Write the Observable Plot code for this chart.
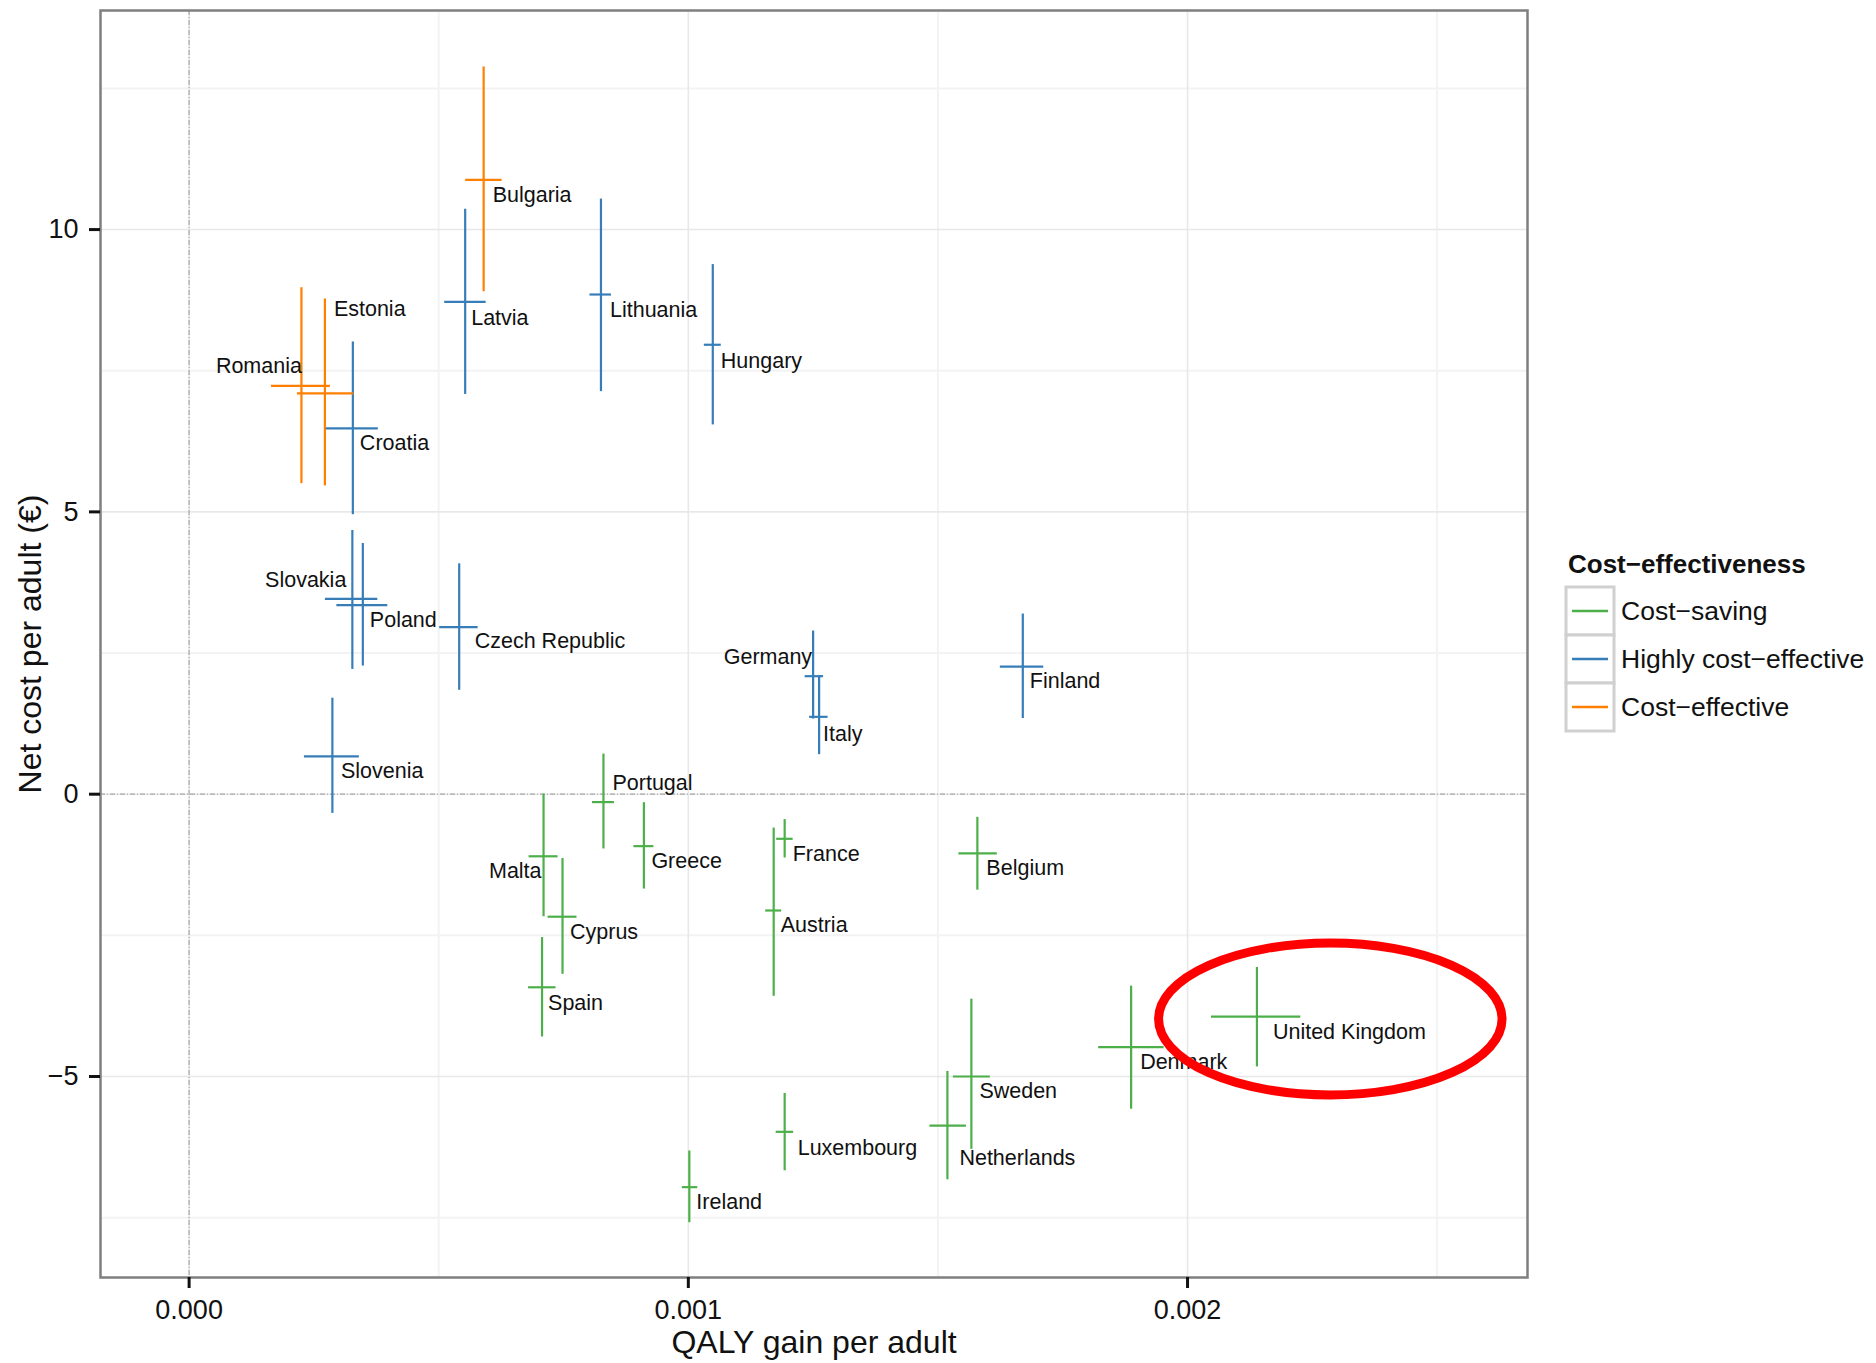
<!DOCTYPE html>
<html><head><meta charset="utf-8">
<script src="https://cdn.jsdelivr.net/npm/d3@7"></script>
<script src="https://cdn.jsdelivr.net/npm/@observablehq/plot@0.6"></script>
<style>
html,body{margin:0;padding:0;background:#fff;}
#chart{position:relative;width:1876px;height:1363px;}
svg{font-family:"Liberation Sans",Arial,sans-serif;}
</style></head><body><div id="chart"></div>
<script>
// ---- data ----
const countries = ["Bulgaria","Latvia","Lithuania","Estonia","Romania","Croatia","Hungary","Slovakia","Poland","Czech Republic","Slovenia","Germany","Italy","Finland","Portugal","Greece","Malta","Cyprus","France","Austria","Belgium","Spain","Ireland","Luxembourg","Netherlands","Sweden","Denmark","United Kingdom"];
const category = ["Cost−effective","Highly cost−effective","Highly cost−effective","Cost−effective","Cost−effective","Highly cost−effective","Highly cost−effective","Highly cost−effective","Highly cost−effective","Highly cost−effective","Highly cost−effective","Highly cost−effective","Highly cost−effective","Highly cost−effective","Cost−saving","Cost−saving","Cost−saving","Cost−saving","Cost−saving","Cost−saving","Cost−saving","Cost−saving","Cost−saving","Cost−saving","Cost−saving","Cost−saving","Cost−saving","Cost−saving"];
const qaly   = [0.000590,0.000553,0.000825,0.000272,0.000225,0.000328,0.001049,0.000327,0.000348,0.000541,0.000287,0.001250,0.001262,0.001670,0.000830,0.000911,0.000710,0.000748,0.001193,0.001171,0.001579,0.000707,0.001002,0.001193,0.001519,0.001567,0.001887,0.002139];
const qalyLo = [0.000554,0.000512,0.000803,0.000217,0.000165,0.000275,0.001032,0.000273,0.000296,0.000502,0.000231,0.001234,0.001243,0.001625,0.000808,0.000891,0.000681,0.000719,0.001177,0.001155,0.001542,0.000680,0.000988,0.001176,0.001484,0.001531,0.001822,0.002048];
const qalyHi = [0.000627,0.000595,0.000846,0.000330,0.000283,0.000379,0.001066,0.000378,0.000398,0.000579,0.000341,0.001271,0.001280,0.001712,0.000852,0.000931,0.000739,0.000777,0.001210,0.001187,0.001619,0.000735,0.001019,0.001211,0.001557,0.001605,0.001953,0.002227];
const cost   = [10.88,8.72,8.85,7.10,7.23,6.48,7.96,3.46,3.35,2.96,0.67,2.09,1.37,2.26,-0.14,-0.92,-1.10,-2.17,-0.79,-2.06,-1.05,-3.42,-6.96,-5.98,-5.87,-5.00,-4.48,-3.94];
const costLo = [8.90,7.08,7.13,5.46,5.50,4.95,6.54,2.21,2.27,1.84,-0.34,1.33,0.70,1.34,-0.97,-1.68,-2.17,-3.19,-1.13,-3.58,-1.70,-4.30,-7.59,-6.67,-6.83,-6.29,-5.58,-4.83];
const costHi = [12.88,10.36,10.54,8.77,8.97,8.01,9.38,4.67,4.44,4.08,1.70,2.89,2.10,3.19,0.71,-0.15,0.00,-1.14,-0.45,-0.60,-0.41,-2.54,-6.32,-5.30,-4.91,-3.63,-3.40,-3.07];

const categories = ["Cost−saving","Highly cost−effective","Cost−effective"];
const categoryColors = ["#4DAF4A","#377EB8","#FF7F00"];
const xTicks = [0, 0.001, 0.002];
const xMinorTicks = [0.0005, 0.0015, 0.0025];
const yTicks = [-5, 0, 5, 10];
const yMinorTicks = [-7.5, -2.5, 2.5, 7.5, 12.5];
const legendTitle = "Cost−effectiveness";
const xTitle = "QALY gain per adult";
const yTitle = "Net cost per adult (€)";

// label placement (pixel nudges, anchor)
const labelNudge = [
  [9,15,"start"],[6,16,"start"],[9,16,"start"],[9,-84,"start"],[0.5,-20,"end"],[7,15,"start"],[8,16,"start"],
  [-6,-19,"end"],[7,15,"start"],[15.5,14,"start"],[8.6,15,"start"],[-1,-19,"end"],[4,17,"start"],[7,15,"start"],
  [9,-19,"start"],[7.5,15,"start"],[-2,15,"end"],[7.5,15,"start"],[8,15,"start"],[7,14.6,"start"],[9,15,"start"],
  [6,16,"start"],[7,14.7,"start"],[13,16.6,"start"],[12,32,"start"],[8,15,"start"],[9,15,"start"],[16,15,"start"]
];
// highlight annotation (data units)
const highlight = {x: 0.002287, y: -3.99, rx: 0.000344, ry: 1.345};

const rows = countries.map((c, i) => ({
  country: c, category: category[i],
  qaly: qaly[i], qalyLo: qalyLo[i], qalyHi: qalyHi[i],
  cost: cost[i], costLo: costLo[i], costHi: costHi[i]
}));

const W = 1876, H = 1363;
const font = '"Liberation Sans", Arial, sans-serif';

const labelMarks = rows.map((r, i) => Plot.text([r], {
  x: "qaly", y: "cost", text: "country",
  dx: labelNudge[i][0], dy: labelNudge[i][1], textAnchor: labelNudge[i][2],
  fontSize: 21.5, fill: "#111"
}));

const chart = Plot.plot({
  width: W, height: H,
  marginLeft: 100, marginRight: 349, marginTop: 10, marginBottom: 86,
  x: {domain: [-0.0001775, 0.002681]},
  y: {domain: [-8.56, 13.88]},
  color: {domain: categories, range: categoryColors},
  style: {fontFamily: font, background: "#fff", color: "#111"},
  marks: [
    Plot.ruleX(xMinorTicks, {stroke: "#f3f3f3", strokeWidth: 2}),
    Plot.ruleY(yMinorTicks, {stroke: "#f3f3f3", strokeWidth: 2}),
    Plot.ruleX(xTicks, {stroke: "#e8e8e8", strokeWidth: 1.6}),
    Plot.ruleY(yTicks, {stroke: "#e8e8e8", strokeWidth: 1.6}),
    Plot.ruleX([0], {stroke: "#a8a8a8", strokeWidth: 1.2, strokeDasharray: "5,2,1,2"}),
    Plot.ruleY([0], {stroke: "#a8a8a8", strokeWidth: 1.2, strokeDasharray: "5,2,1,2"}),
    Plot.ruleX(rows, {x: "qaly", y1: "costLo", y2: "costHi", stroke: "category", strokeWidth: 2.2}),
    Plot.ruleY(rows, {y: "cost", x1: "qalyLo", x2: "qalyHi", stroke: "category", strokeWidth: 2.2}),
    ...labelMarks,
    Plot.frame({stroke: "#7f7f7f", strokeWidth: 2.5}),
    Plot.axisX({ticks: xTicks, tickFormat: d3.format(".3f"), tickSize: 11, tickPadding: 11, fontSize: 27, strokeWidth: 3, label: null, stroke: "#111", fill: "#111"}),
    Plot.axisY({ticks: yTicks, tickSize: 11, tickPadding: 11, fontSize: 27, strokeWidth: 3, label: null, stroke: "#111", fill: "#111"}),
    Plot.text([xTitle], {frameAnchor: "bottom", dy: 65, lineAnchor: "middle", textAnchor: "middle", fontSize: 32, fill: "#111"}),
    Plot.text([yTitle], {frameAnchor: "left", dx: -70, rotate: -90, lineAnchor: "middle", textAnchor: "middle", fontSize: 32, fill: "#111"})
  ]
});

document.getElementById("chart").appendChild(chart);

// highlight ellipse
const sx = chart.scale("x"), sy = chart.scale("y");
const svg = d3.select(chart);
const ecx = sx.apply(highlight.x), ecy = sy.apply(highlight.y);
svg.append("ellipse")
  .attr("cx", ecx).attr("cy", ecy)
  .attr("rx", Math.abs(sx.apply(highlight.x + highlight.rx) - ecx))
  .attr("ry", Math.abs(sy.apply(highlight.y + highlight.ry) - ecy))
  .attr("fill", "none").attr("stroke", "#ff0000").attr("stroke-width", 9);

// legend
const lg = svg.append("g").attr("font-family", font).attr("text-anchor", "start");
const lx = 1566, ly = 587, keyH = 48, keyW = 48;
lg.append("text").attr("x", 1568).attr("y", 573).attr("font-size", 26).attr("font-weight", "bold").attr("fill", "#111").attr("text-anchor", "start").text(legendTitle);
categories.forEach((c, i) => {
  const y0 = ly + i * keyH;
  lg.append("rect").attr("x", lx).attr("y", y0).attr("width", keyW).attr("height", keyH)
    .attr("fill", "#fff").attr("stroke", "#d0d0d0").attr("stroke-width", 3);
});
categories.forEach((c, i) => {
  const yc = ly + i * keyH + keyH / 2;
  lg.append("line").attr("x1", lx + 6).attr("x2", lx + keyW - 6).attr("y1", yc).attr("y2", yc)
    .attr("stroke", categoryColors[i]).attr("stroke-width", 2.4);
  lg.append("text").attr("x", 1621).attr("y", yc).attr("dy", "0.35em").attr("font-size", 26.5).attr("fill", "#111").attr("text-anchor", "start").text(c);
});
</script></body></html>
